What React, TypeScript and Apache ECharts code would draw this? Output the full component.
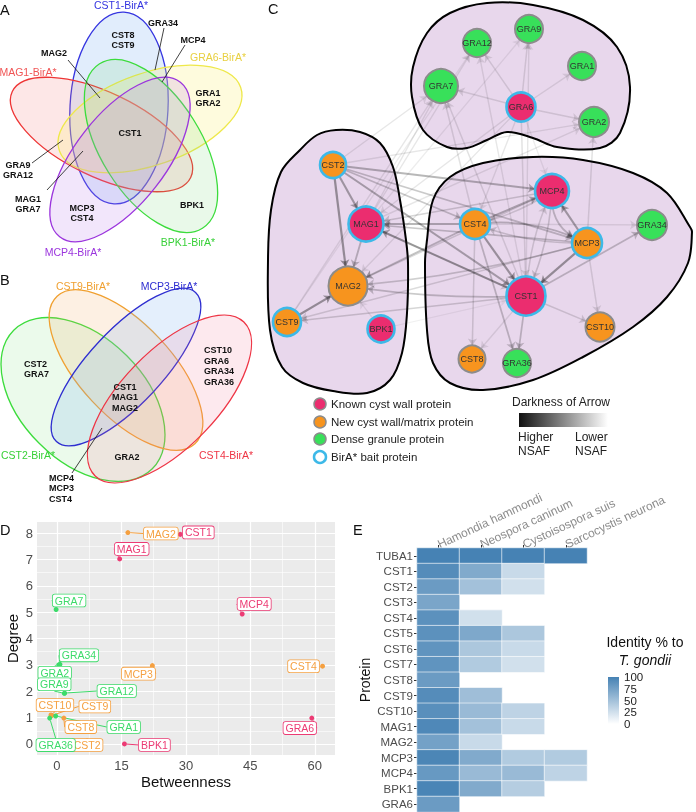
import React, { useEffect, useRef } from 'react';
import * as echarts from 'echarts';

// ---------------- Panel D data ----------------
const knownNames = ['CST1', 'MAG1', 'MCP4', 'BPK1', 'GRA6'];
const knownBetweenness = [28.7, 14.6, 43.1, 15.7, 59.3];
const knownDegree = [7.95, 7.02, 4.93, 0.0, 0.98];
const newNames = ['MAG2', 'MCP3', 'CST4', 'CST10', 'CST9', 'CST8', 'CST2'];
const newBetweenness = [16.5, 22.2, 61.8, -1.4, -1.2, 1.6, 7.0];
const newDegree = [8.02, 2.97, 2.95, 1.1, 1.08, 0.98, 0.0];
const denseNames = ['GRA7', 'GRA34', 'GRA2', 'GRA9', 'GRA12', 'GRA1', 'GRA36'];
const denseBetweenness = [-0.2, 0.7, 0.4, 1.7, 1.8, -0.3, -1.7];
const denseDegree = [5.1, 3.02, 3.0, 1.92, 1.93, 1.06, 0.98];
const xTicks = [0, 15, 30, 45, 60];
const xMinor = [7.5, 22.5, 37.5, 52.5];
const yTicks = [0, 1, 2, 3, 4, 5, 6, 7, 8];
const yMinor = [0.5, 1.5, 2.5, 3.5, 4.5, 5.5, 6.5, 7.5];

// ---------------- Panel E data ----------------
const species = ['Hamondia hammondi', 'Neospora caninum', 'Cystoisospora suis', 'Sarcocystis neurona'];
const proteins = ['TUBA1', 'CST1', 'CST2', 'CST3', 'CST4', 'CST5', 'CST6', 'CST7', 'CST8', 'CST9', 'CST10', 'MAG1', 'MAG2', 'MCP3', 'MCP4', 'BPK1', 'GRA6'];
const identHammondi = [100, 92, 80, 72, 88, 88, 86, 86, 80, 92, 90, 95, 75, 97, 82, 98, 80];
const identCaninum = [100, 68, 50, null, 25, 70, 45, 42, null, 52, 55, 50, 30, 68, 55, 68, null];
const identSuis = [100, 30, 25, null, null, 45, 30, 25, null, null, 35, 30, null, 42, 55, 40, null];
const identNeurona = [100, null, null, null, null, null, null, null, null, null, null, null, null, 42, 35, null, null];
const identityTicks = [100, 75, 50, 25, 0];

// ---------------- Panel C network data ----------------
const nodeNames = ['GRA12', 'GRA9', 'GRA1', 'GRA7', 'GRA6', 'GRA2', 'CST2', 'MCP4', 'MAG1', 'CST4', 'GRA34', 'MCP3', 'MAG2', 'CST1', 'CST9', 'BPK1', 'CST10', 'CST8', 'GRA36'];
const nodeGroup = ['dense', 'dense', 'dense', 'dense', 'known', 'dense', 'new', 'known', 'known', 'new', 'dense', 'new', 'new', 'known', 'new', 'known', 'new', 'new', 'dense'];
const nodeBait = [false, false, false, false, true, false, true, true, true, true, false, true, false, true, true, true, false, false, false];
const edgeList: [string, string, number, number?][] = [
  ['GRA6', 'GRA12', 0.25], ['GRA6', 'GRA9', 0.25], ['GRA6', 'GRA1', 0.2], ['GRA6', 'GRA7', 0.25], ['GRA6', 'GRA2', 0.25],
  ['GRA6', 'MAG2', 0.2], ['GRA6', 'CST1', 0.25], ['GRA6', 'CST4', 0.2], ['GRA6', 'MCP4', 0.15], ['GRA6', 'MAG1', 0.2],
  ['CST2', 'MAG1', 0.7], ['CST2', 'MAG2', 0.8], ['CST2', 'MCP4', 0.6], ['CST2', 'CST1', 0.65], ['CST2', 'CST4', 0.45],
  ['CST2', 'MCP3', 0.45], ['CST2', 'GRA2', 0.2], ['CST2', 'GRA7', 0.2],
  ['MAG1', 'MAG2', 0.5], ['MAG1', 'GRA7', 0.2], ['MAG1', 'GRA12', 0.2], ['MAG1', 'GRA9', 0.15], ['MAG1', 'GRA2', 0.2], ['MAG1', 'CST1', 0.3],
  ['CST4', 'CST1', 0.75], ['CST4', 'MCP4', 0.6], ['CST4', 'MCP3', 0.5, 0.15], ['CST4', 'MAG1', 0.6], ['CST4', 'MAG2', 0.5],
  ['CST4', 'GRA36', 0.45], ['CST4', 'GRA34', 0.2], ['CST4', 'GRA7', 0.25], ['CST4', 'CST8', 0.3],
  ['MCP4', 'MCP3', 0.45, -0.4], ['MCP4', 'CST1', 0.35, 0.1], ['MCP4', 'MAG1', 0.35], ['MCP4', 'MAG2', 0.3], ['MCP4', 'CST4', 0.3, 0.1],
  ['MCP3', 'CST1', 0.8], ['MCP3', 'MCP4', 0.7], ['MCP3', 'CST10', 0.25], ['MCP3', 'MAG2', 0.4, 0.05], ['MCP3', 'MAG1', 0.45],
  ['MCP3', 'CST4', 0.35, 0.1], ['MCP3', 'GRA2', 0.25], ['MCP3', 'CST9', 0.3],
  ['CST1', 'MAG1', 0.7], ['CST1', 'MAG2', 0.45, 0.05], ['CST1', 'CST9', 0.35], ['CST1', 'CST8', 0.2], ['CST1', 'GRA36', 0.45],
  ['CST1', 'CST10', 0.3], ['CST1', 'GRA34', 0.45], ['CST1', 'MCP4', 0.3, 0.1], ['CST1', 'GRA7', 0.25], ['CST1', 'GRA9', 0.2], ['CST1', 'GRA12', 0.2],
  ['CST9', 'MAG2', 0.8], ['CST9', 'GRA7', 0.2], ['CST9', 'GRA12', 0.15],
  ['BPK1', 'MAG2', 0.15], ['BPK1', 'CST1', 0.12],
];

// ---------------- layout (positions / sizes / styles) ----------------
const nodePos: Record<string, [number, number, number]> = {
  GRA12: [477, 43, 14], GRA9: [529, 29, 14], GRA1: [582, 66, 14], GRA7: [441, 86, 17], GRA6: [521, 107, 14.5],
  GRA2: [594, 122, 15], CST2: [333, 165, 13], MCP4: [552, 191, 17], MAG1: [366, 224, 17.5], CST4: [475, 224, 15],
  GRA34: [652, 225, 15], MCP3: [587, 243, 15], MAG2: [348, 286, 19.5], CST1: [526, 296, 19.5], CST9: [287, 322, 14],
  BPK1: [381, 329, 13.5], CST10: [600, 327, 14.5], CST8: [472, 359, 13.5], GRA36: [517, 363, 14],
};
const labelOffset: Record<string, [number, number]> = {
  CST1: [18, -2], MAG1: [12, -10], MCP4: [12, -10], BPK1: [30, 1], GRA6: [-12, 10],
  MAG2: [33, 1], MCP3: [-14, 8], CST4: [-19, 0], CST10: [4, -10], CST9: [43, -9], CST8: [17, 9], CST2: [0, 1],
  GRA7: [13, -9], GRA34: [19, -9], GRA2: [-4, 8], GRA9: [-10, -9], GRA12: [52, -2], GRA1: [68, 11], GRA36: [6, 27],
};
const PINK = '#EB2D6F';
const ORANGE = '#F7941E';
const GREEN = '#38E05A';
const BAIT = '#3DB9E8';
const groupColor: Record<string, string> = { known: PINK, new: ORANGE, dense: GREEN };
const D_PINK = '#EC3B74';
const D_ORANGE = '#F5A040';
const D_GREEN = '#3DDB6A';

const FONT = 'Liberation Sans, Arial, sans-serif';

const vennA = [
  { cx: 119, cy: 108, a: 96, b: 49, ang: 87, stroke: '#3535E0', fill: 'rgba(120,175,240,0.22)' },
  { cx: 101.5, cy: 134.5, a: 99, b: 42, ang: -25.7, stroke: '#EE3535', fill: 'rgba(245,120,120,0.18)' },
  { cx: 150, cy: 119, a: 96, b: 46, ang: 19.3, stroke: '#EEE84A', fill: 'rgba(250,240,120,0.25)' },
  { cx: 151, cy: 146, a: 97, b: 50, ang: -58, stroke: '#3CDC3C', fill: 'rgba(120,220,120,0.16)' },
  { cx: 120, cy: 159.5, a: 98, b: 45, ang: 52, stroke: '#9B35DD', fill: 'rgba(190,130,235,0.2)' },
];
const vennB = [
  { cx: 83, cy: 399.5, a: 98, b: 62, ang: -45, stroke: '#3CDC3C', fill: 'rgba(120,220,120,0.15)' },
  { cx: 126, cy: 370, a: 101, b: 46, ang: -47, stroke: '#F0A030', fill: 'rgba(245,170,100,0.18)' },
  { cx: 126, cy: 367, a: 102, b: 37, ang: 47, stroke: '#2E2ED0', fill: 'rgba(120,175,240,0.2)' },
  { cx: 169.5, cy: 399, a: 107, b: 48, ang: 46, stroke: '#EE3545', fill: 'rgba(245,120,150,0.16)' },
];

function txt(text: string, x: number, y: number, size: number, fill: string, extra: any = {}) {
  return {
    type: 'text', x, y, z: 20,
    style: { text, fontSize: size, fill, align: 'center', verticalAlign: 'middle', fontFamily: FONT, lineHeight: size + 1.5, ...extra },
  };
}
function lineEl(x1: number, y1: number, x2: number, y2: number) {
  return { type: 'line', z: 20, shape: { x1, y1, x2, y2 }, style: { stroke: '#111', lineWidth: 0.8 } };
}
function ellipseEl(e: any) {
  return {
    type: 'ellipse', x: e.cx, y: e.cy, rotation: (e.ang * Math.PI) / 180, z: 5,
    shape: { cx: 0, cy: 0, rx: e.a, ry: e.b },
    style: { fill: e.fill, stroke: e.stroke, lineWidth: 1.3 },
  };
}

const blobTop = [[630, 87], [620, 133], [600, 148], [557, 147], [533, 138], [507, 132], [487, 140], [467, 148], [447, 147], [423, 130], [412, 97], [413, 67], [427, 33], [450, 13], [487, 3], [533, 5], [583, 20], [617, 47]];
const blobLeft = [[268, 260], [271, 210], [281, 172], [300, 150], [317, 135], [336, 130], [360, 132], [380, 143], [393, 167], [400, 200], [406, 240], [408, 263], [407, 313], [402, 353], [390, 380], [367, 393], [333, 391], [303, 383], [282, 367], [270, 330]];
const blobRight = [[427, 240], [433, 200], [450, 177], [483, 163], [533, 157], [583, 160], [633, 173], [667, 193], [690, 227], [692, 232], [688, 263], [667, 297], [633, 327], [583, 357], [533, 380], [483, 390], [450, 383], [433, 363], [427, 330], [425, 263]];

function blobEl(points: number[][]) {
  return { type: 'polygon', z: 1, shape: { points, smooth: 0.35 }, style: { fill: '#E8D7EC', stroke: '#000', lineWidth: 2 } };
}

function scatterSeries(names: string[], xs: number[], ys: number[], color: string, withGrid: boolean) {
  const s: any = {
    type: 'scatter', xAxisIndex: 1, yAxisIndex: 1, symbolSize: 5, z: 3,
    itemStyle: { color, opacity: 1 },
    data: names.map((n, i) => ({ name: n, value: [xs[i], ys[i]] })),
    label: {
      show: true, position: 'inside', formatter: '{b}', color, fontSize: 10.5, fontFamily: FONT,
      backgroundColor: '#fff', borderColor: color, borderWidth: 0.8, borderRadius: 2, padding: [1, 2, 0, 2],
    },
    labelLayout: (p: any) => {
      const o = labelOffset[names[p.dataIndex]] || [0, 0];
      return { dx: o[0], dy: o[1] };
    },
    labelLine: { show: true, lineStyle: { color, width: 1 } },
    emphasis: { disabled: true },
  };
  if (withGrid) {
    s.markLine = {
      silent: true, symbol: 'none', z: 1, label: { show: false },
      lineStyle: { color: '#fff', type: 'solid' },
      data: [
        ...xTicks.map((v) => ({ xAxis: v, lineStyle: { width: 1.2, color: '#fff', type: 'solid' } })),
        ...xMinor.map((v) => ({ xAxis: v, lineStyle: { width: 0.6, color: '#fff', type: 'solid' } })),
        ...yTicks.map((v) => ({ yAxis: v, lineStyle: { width: 1.2, color: '#fff', type: 'solid' } })),
        ...yMinor.map((v) => ({ yAxis: v, lineStyle: { width: 0.6, color: '#fff', type: 'solid' } })),
      ],
    };
  }
  return s;
}

export default function App() {
  const ref = useRef<HTMLDivElement>(null);
  useEffect(() => {
    if (!ref.current) return;
    const chart = echarts.init(ref.current, undefined, { renderer: 'svg' });

    const heatData: any[] = [];
    [identHammondi, identCaninum, identSuis, identNeurona].forEach((arr, xi) => {
      arr.forEach((v, yi) => {
        if (v !== null) heatData.push([xi, yi, v]);
      });
    });

    const nodes = nodeNames.map((n, i) => {
      const p = nodePos[n];
      return {
        name: n, value: [p[0], p[1]], symbolSize: p[2] * 2,
        itemStyle: { color: groupColor[nodeGroup[i]], borderColor: nodeBait[i] ? BAIT : '#8C8C8C', borderWidth: nodeBait[i] ? 2.6 : 2 },
      };
    });
    const links = edgeList.map((e) => ({
      source: e[0], target: e[1],
      lineStyle: { color: `rgba(20,20,20,${e[2]})`, width: 1.1 + e[2] * 1.4, curveness: e[3] || 0 },
    }));

    const barTop = 677, barH = 47;
    const legendE: any[] = [
      txt('Identity % to', 645, 642, 14, '#111'),
      txt('T. gondii', 645, 660, 14, '#111', { fontStyle: 'italic' }),
      {
        type: 'rect', z: 20, shape: { x: 608, y: barTop, width: 11, height: barH },
        style: { fill: new echarts.graphic.LinearGradient(0, 0, 0, 1, [{ offset: 0, color: '#4682B4' }, { offset: 1, color: '#FFFFFF' }]) },
      },
      ...identityTicks.map((v) => txt(String(v), 624, barTop + ((100 - v) / 100) * barH, 11.5, '#222', { align: 'left' })),
    ];

    const legendC: any[] = [
      { type: 'circle', z: 20, shape: { cx: 320, cy: 404, r: 6 }, style: { fill: PINK, stroke: '#8C8C8C', lineWidth: 1.5 } },
      { type: 'circle', z: 20, shape: { cx: 320, cy: 422, r: 6 }, style: { fill: ORANGE, stroke: '#8C8C8C', lineWidth: 1.5 } },
      { type: 'circle', z: 20, shape: { cx: 320, cy: 439, r: 6 }, style: { fill: GREEN, stroke: '#8C8C8C', lineWidth: 1.5 } },
      { type: 'circle', z: 20, shape: { cx: 320, cy: 457, r: 6 }, style: { fill: '#fff', stroke: BAIT, lineWidth: 2.5 } },
      txt('Known cyst wall protein', 331, 404, 11.5, '#222', { align: 'left' }),
      txt('New cyst wall/matrix protein', 331, 422, 11.5, '#222', { align: 'left' }),
      txt('Dense granule protein', 331, 439, 11.5, '#222', { align: 'left' }),
      txt('BirA* bait protein', 331, 457, 11.5, '#222', { align: 'left' }),
      txt('Darkness of Arrow', 512, 402, 12, '#222', { align: 'left' }),
      {
        type: 'rect', z: 20, shape: { x: 519, y: 413, width: 89, height: 14 },
        style: { fill: new echarts.graphic.LinearGradient(0, 0, 1, 0, [{ offset: 0, color: '#111' }, { offset: 1, color: '#FFFFFF' }]) },
      },
      txt('Higher', 518, 437, 12, '#222', { align: 'left' }),
      txt('NSAF', 518, 451, 12, '#222', { align: 'left' }),
      txt('Lower', 575, 437, 12, '#222', { align: 'left' }),
      txt('NSAF', 575, 451, 12, '#222', { align: 'left' }),
    ];

    const venn: any[] = [
      ...vennA.map(ellipseEl),
      ...vennB.map(ellipseEl),
      txt('CST1-BirA*', 121, 5, 10.5, '#3535E0'),
      txt('MAG1-BirA*', 28, 72, 10.5, '#F05555'),
      txt('GRA6-BirA*', 218, 57, 10.5, '#E8D040'),
      txt('BPK1-BirA*', 188, 242, 10.5, '#38D038'),
      txt('MCP4-BirA*', 73, 252, 10.5, '#9B35DD'),
      txt('CST8\nCST9', 123, 40, 9, '#111', { fontWeight: 'bold' }),
      txt('GRA34', 163, 23, 9, '#111', { fontWeight: 'bold' }),
      txt('MCP4', 193, 40, 9, '#111', { fontWeight: 'bold' }),
      txt('MAG2', 54, 53, 9, '#111', { fontWeight: 'bold' }),
      txt('GRA1\nGRA2', 208, 98, 9, '#111', { fontWeight: 'bold' }),
      txt('CST1', 130, 133, 9, '#111', { fontWeight: 'bold' }),
      txt('GRA9\nGRA12', 18, 170, 9, '#111', { fontWeight: 'bold' }),
      txt('MAG1\nGRA7', 28, 204, 9, '#111', { fontWeight: 'bold' }),
      txt('MCP3\nCST4', 82, 213, 9, '#111', { fontWeight: 'bold' }),
      txt('BPK1', 192, 205, 9, '#111', { fontWeight: 'bold' }),
      lineEl(68, 60, 100, 98), lineEl(164, 28, 155, 70), lineEl(185, 45, 162, 82), lineEl(32, 163, 63, 140), lineEl(47, 190, 83, 151),
      txt('CST9-BirA*', 83, 286, 10.5, '#F0A030'),
      txt('MCP3-BirA*', 169, 286, 10.5, '#2E2ED0'),
      txt('CST2-BirA*', 28, 455, 10.5, '#38D038'),
      txt('CST4-BirA*', 226, 455, 10.5, '#EE3545'),
      txt('CST2\nGRA7', 24, 369, 9, '#111', { fontWeight: 'bold', align: 'left' }),
      txt('CST10\nGRA6\nGRA34\nGRA36', 204, 366, 9, '#111', { fontWeight: 'bold', align: 'left' }),
      txt('CST1\nMAG1\nMAG2', 125, 397, 9, '#111', { fontWeight: 'bold' }),
      txt('GRA2', 127, 457, 9, '#111', { fontWeight: 'bold' }),
      txt('MCP4\nMCP3\nCST4', 49, 488, 9, '#111', { fontWeight: 'bold', align: 'left' }),
      lineEl(72, 473, 102, 428),
    ];

    const letters: any[] = [
      txt('A', 0, 10, 14.5, '#111', { align: 'left' }),
      txt('B', 0, 280, 14.5, '#111', { align: 'left' }),
      txt('C', 268, 9, 14.5, '#111', { align: 'left' }),
      txt('D', 0, 530, 14.5, '#111', { align: 'left' }),
      txt('E', 353, 530, 14.5, '#111', { align: 'left' }),
    ];

    const axisGray = '#4D4D4D';
    const option: any = {
      animation: false,
      textStyle: { fontFamily: FONT },
      grid: [
        { left: 0, top: 0, width: 696, height: 812, show: false },
        { left: 37, top: 522, width: 298, height: 233, show: true, backgroundColor: '#EBEBEB', borderWidth: 0 },
        { left: 417, top: 548, width: 170, height: 264, show: false },
      ],
      xAxis: [
        { gridIndex: 0, type: 'value', min: 0, max: 696, show: false },
        {
          gridIndex: 1, type: 'value', min: -4.65, max: 64.7,
          axisLine: { show: false }, splitLine: { show: false },
          axisTick: { show: true, length: 3, lineStyle: { color: '#333' }, customValues: xTicks },
          axisLabel: { color: axisGray, fontSize: 13, margin: 4, customValues: xTicks },
          name: 'Betweenness', nameLocation: 'middle', nameGap: 19, nameTextStyle: { fontSize: 15, color: '#111' },
        },
        {
          gridIndex: 2, type: 'category', position: 'top', data: species,
          axisLine: { show: false }, splitLine: { show: false },
          axisTick: { show: true, alignWithLabel: true, length: 3, lineStyle: { color: '#333' } },
          axisLabel: { rotate: -25, align: 'left', verticalAlign: 'middle', color: '#8C8C8C', fontSize: 12, margin: 3, interval: 0 },
        },
      ],
      yAxis: [
        { gridIndex: 0, type: 'value', min: 0, max: 812, inverse: true, show: false },
        {
          gridIndex: 1, type: 'value', min: -0.42, max: 8.42,
          axisLine: { show: false }, splitLine: { show: false },
          axisTick: { show: true, length: 3, lineStyle: { color: '#333' }, customValues: yTicks },
          axisLabel: { color: axisGray, fontSize: 13, margin: 4, customValues: yTicks },
          name: 'Degree', nameLocation: 'middle', nameGap: 17, nameTextStyle: { fontSize: 15, color: '#111' },
        },
        {
          gridIndex: 2, type: 'category', inverse: true, data: proteins,
          axisLine: { show: false }, splitLine: { show: false },
          axisTick: { show: true, alignWithLabel: true, length: 3, lineStyle: { color: '#333' } },
          axisLabel: { color: axisGray, fontSize: 11.5, margin: 4, interval: 0 },
          name: 'Protein', nameLocation: 'middle', nameGap: 44, nameTextStyle: { fontSize: 14, color: '#111' },
        },
      ],
      visualMap: [{ type: 'continuous', show: false, seriesIndex: 4, min: 0, max: 100, dimension: 2, inRange: { color: ['#FFFFFF', '#4682B4'] } }],
      graphic: { elements: [blobEl(blobTop), blobEl(blobLeft), blobEl(blobRight), ...venn, ...letters, ...legendC, ...legendE] },
      series: [
        {
          type: 'graph', coordinateSystem: 'cartesian2d', xAxisIndex: 0, yAxisIndex: 0, layout: 'none', z: 3,
          data: nodes, links,
          edgeSymbol: ['none', 'arrow'], edgeSymbolSize: [0, 7],
          label: { show: true, position: 'inside', fontSize: 9, color: '#333', fontFamily: FONT },
          emphasis: { disabled: true },
        },
        scatterSeries(knownNames, knownBetweenness, knownDegree, D_PINK, true),
        scatterSeries(newNames, newBetweenness, newDegree, D_ORANGE, false),
        scatterSeries(denseNames, denseBetweenness, denseDegree, D_GREEN, false),
        {
          type: 'heatmap', xAxisIndex: 2, yAxisIndex: 2, data: heatData,
          itemStyle: { borderColor: '#FFFFFF', borderWidth: 0.6 },
          label: { show: false }, emphasis: { disabled: true },
        },
      ],
    };
    chart.setOption(option);
    return () => chart.dispose();
  }, []);
  return <div ref={ref} style={{ position: 'fixed', left: 0, top: 0, width: 696, height: 812 }} />;
}
